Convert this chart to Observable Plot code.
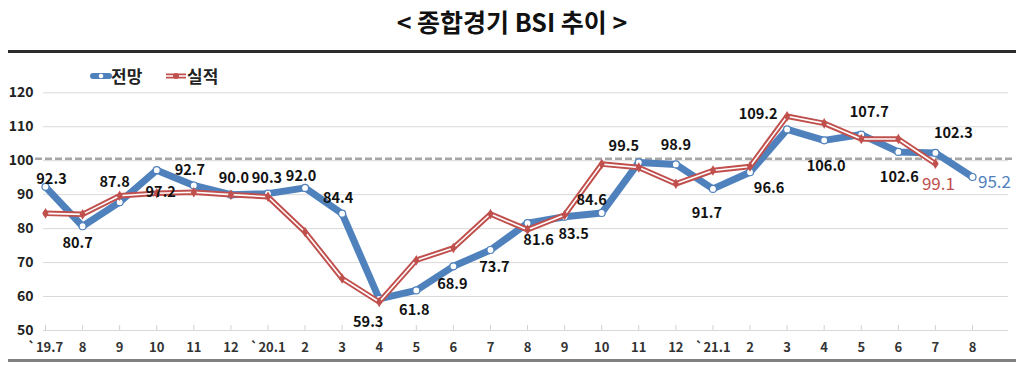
<!DOCTYPE html>
<html><head><meta charset="utf-8">
<script src="https://cdn.jsdelivr.net/npm/d3@7"></script>
<script src="https://cdn.jsdelivr.net/npm/@observablehq/plot@0.6"></script>
<style>
body{margin:0;background:#fff;font-family:"Noto Sans CJK KR","Noto Sans",sans-serif;}
#wrap{position:relative;width:1024px;height:366px;overflow:hidden;background:#fff;}
#title{position:absolute;top:4px;left:0;width:1024px;text-align:center;font-size:25px;font-weight:bold;line-height:34px;color:#111;}
#topline{position:absolute;top:50px;left:8px;width:1008px;height:3px;background:#2b2b2b;}
#chart{position:absolute;top:56px;left:0;}
#bottomline{position:absolute;top:359px;left:8px;width:1008px;height:3px;background:#808080;}
.lg{position:absolute;font-size:17px;font-weight:bold;color:#222;line-height:20px;}
.sw{position:absolute;}
</style></head><body>
<div id="wrap">
  <div id="title">&lt; 종합경기 BSI 추이 &gt;</div>
  <div id="topline"></div>
  <div id="chart"></div>
  <svg class="sw" style="left:90px;top:70px" width="22" height="12"><line x1="3" y1="6" x2="19" y2="6" stroke="#4f81bd" stroke-width="6" stroke-linecap="round"/><circle cx="11" cy="6" r="2.3" fill="#fff"/></svg>
  <div class="lg" style="left:111px;top:66px">전망</div>
  <svg class="sw" style="left:165px;top:70px" width="22" height="12"><line x1="1" y1="6" x2="21" y2="6" stroke="#c0504d" stroke-width="5"/><line x1="1" y1="6" x2="21" y2="6" stroke="#fff" stroke-width="1.5"/><circle cx="11" cy="6" r="3" fill="#c0504d"/></svg>
  <div class="lg" style="left:187px;top:66px">실적</div>
  <div id="bottomline"></div>
</div>
<script>
// ---- data ----
const labels = ["`19.7","8","9","10","11","12","`20.1","2","3","4","5","6","7","8","9","10","11","12","`21.1","2","3","4","5","6","7","8"];
const outlook = [92.3,80.7,87.8,97.2,92.7,90.0,90.3,92.0,84.4,59.3,61.8,68.9,73.7,81.6,83.5,84.6,99.5,98.9,91.7,96.6,109.2,106.0,107.7,102.6,102.3,95.2];
const actual = [84.5,84.2,89.7,90.4,90.7,90.0,89.4,79.0,65.3,58.4,70.7,74.3,84.3,79.7,84.0,99.0,98.0,93.2,97.1,98.3,113.1,111.0,106.4,106.4,99.1,null];
const yTicks = [50,60,70,80,90,100,110,120];
const reference = [100];

// ---- label layout (pixel offsets from each point) ----
const labelDx = [6,-5,-5,4,-4,3,-1,-4,-4,-11,-2,-1,4,11,9,-10,-15,0,-6,19,-29,2,8,1,18,22];
const labelDy = [-8,17,-20,22,-15,-16,-15,-12,-15,23,20,18,17,17,18,-13,-16,-19,24,16,-15,26,-22,25,-20,6];
const lastActualOffset = [3, 21];

const BLUE = "#4f81bd", RED = "#c0504d";
const idx = labels.map((_, i) => i);
const rows = idx.map(i => ({i, label: labels[i], outlook: outlook[i], actual: actual[i]}));
const actualRows = rows.filter(d => d.actual != null);
const lastI = rows.length - 1;
const lastA = actualRows[actualRows.length - 1];

const labelMarks = rows.map(d => Plot.text([d], {
  x: "i", y: "outlook", text: r => r.outlook.toFixed(1),
  dx: labelDx[d.i], dy: labelDy[d.i],
  fontSize: d.i === lastI ? 17 : 14.5,
  fontWeight: d.i === lastI ? "normal" : "bold",
  fill: d.i === lastI ? BLUE : "#111"
}));

const chart = Plot.plot({
  width: 1024, height: 310,
  marginLeft: 43, marginRight: 16, marginTop: 20, marginBottom: 36,
  style: {fontFamily: '"Noto Sans CJK KR","Noto Sans",sans-serif', background: "transparent", overflow: "visible"},
  x: {type: "linear", domain: [0, lastI], range: [45, 972]},
  y: {domain: [50, 120], range: [274, 36.3]},
  marks: [
    Plot.gridY(yTicks, {stroke: "#d9d9d9", strokeOpacity: 1, strokeWidth: 1}),
    Plot.axisY(yTicks, {tickSize: 0, tickPadding: 10, fontSize: 14, fontWeight: "bold", fill: "#222", label: null}),
    Plot.axisX(idx, {tickSize: 0, tickPadding: 12, tickFormat: i => labels[i], fontSize: 13, fontWeight: "bold", fill: "#333", label: null}),
    Plot.ruleX(idx, {x: d => d, y1: 50, y2: 50, insetBottom: 5, stroke: "#d0d0d0"}),
    Plot.ruleY(reference, {stroke: "#a6a6a6", strokeWidth: 2.5, strokeDasharray: "7,3", insetLeft: -8, insetRight: -7, dy: -2}),
    Plot.lineY(rows, {x: "i", y: "outlook", stroke: BLUE, strokeWidth: 7, strokeLinejoin: "round"}),
    Plot.dot(rows, {x: "i", y: "outlook", r: 3.5, fill: "white", stroke: BLUE, strokeWidth: 1.2}),
    Plot.lineY(actualRows, {x: "i", y: "actual", stroke: RED, strokeWidth: 5.5, strokeLinejoin: "miter"}),
    Plot.lineY(actualRows, {x: "i", y: "actual", stroke: "white", strokeWidth: 1.6}),
    Plot.dot(actualRows, {x: "i", y: "actual", r: 3.2, fill: RED, symbol: "diamond"}),
    ...labelMarks,
    Plot.text([lastA], {x: "i", y: "actual", text: d => d.actual.toFixed(1), dx: lastActualOffset[0], dy: lastActualOffset[1], fontSize: 17, fill: RED})
  ]
});
document.getElementById("chart").append(chart);
</script>
</body></html>
